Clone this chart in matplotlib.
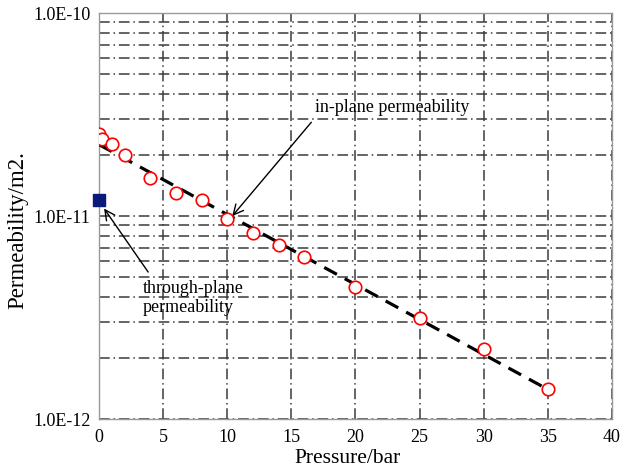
import numpy as np
import matplotlib.pyplot as plt
from matplotlib.ticker import FixedLocator, FixedFormatter, LogLocator, NullFormatter

# in-plane permeability measured at different pressures
pressure = [0, 0.2, 1, 2, 4, 6, 8, 10, 12, 14, 16, 20, 25, 30, 35]
k_inplane = [2.53e-11, 2.40e-11, 2.26e-11, 2.0e-11, 1.54e-11, 1.30e-11, 1.20e-11,
             9.7e-12, 8.3e-12, 7.2e-12, 6.3e-12, 4.47e-12, 3.15e-12, 2.21e-12, 1.41e-12]

# through-plane permeability
p_through = [0]
k_through = [1.2e-11]

# exponential fit of the in-plane data
fit_k0 = 2.25e-11
fit_k35 = 1.40e-12
fit_p = [0, 35]

plt.rcParams['font.family'] = ['Liberation Serif', 'DejaVu Serif']

fig = plt.figure(figsize=(6.23, 4.70), dpi=100)
ax = fig.add_axes([0.159, 0.1085, 0.823, 0.8635])

ax.set_yscale('log')
ax.set_xlim(0, 40)
ax.set_ylim(1e-12, 1e-10)

# grid first so the data sits on top
grid_style = dict(color='#3a3a3a', linestyle=(0, (7, 2.5, 1, 2.5)), linewidth=1.1)
ax.grid(True, which='both', axis='y', **grid_style)
ax.grid(True, which='major', axis='x', **grid_style)
ax.set_axisbelow(True)

fit_line = fit_k0 * (fit_k35 / fit_k0) ** (np.array(fit_p) / 35.0)
ax.plot(fit_p, fit_line, color='black', linestyle=(0, (4.5, 2.8)), linewidth=2.3, zorder=3)
ax.plot(pressure, k_inplane, 'o', mfc='white', mec='red', mew=1.2, ms=9, zorder=4)
ax.plot(p_through, k_through, 's', color='#0a1a7a', ms=8, zorder=5, clip_on=False)

ax.set_xticks(np.arange(0, 41, 5))
ax.yaxis.set_major_locator(FixedLocator([1e-12, 1e-11, 1e-10]))
ax.yaxis.set_major_formatter(FixedFormatter(['1.0E-12', '1.0E-11', '1.0E-10']))
ax.yaxis.set_minor_locator(LogLocator(base=10, subs=np.arange(2, 10)))
ax.yaxis.set_minor_formatter(NullFormatter())
ax.tick_params(which='both', length=0, labelsize=13)
ax.tick_params(axis='x', pad=7)
ax.tick_params(axis='y', pad=6)

for s in ax.spines.values():
    s.set_color('#999999')
    s.set_linewidth(1.0)

ax.set_xlabel('Pressure/bar', fontsize=15.5, va='center')
ax.xaxis.set_label_coords(0.485, -0.097)
ax.set_ylabel('Permeability/m2.', fontsize=16.5, va='center')
ax.yaxis.set_label_coords(-0.158, 0.466)

arrow = dict(arrowstyle='->', color='black', lw=1.0, mutation_scale=18,
             shrinkA=0, shrinkB=0)

ax.text(22.9, 3.44e-11, 'in-plane permeability', fontsize=13, ha='center', va='center')
ax.annotate('', xy=(10.39, 1.0e-11), xytext=(16.56, 2.9e-11), arrowprops=arrow)

ax.text(3.44, 3.94e-12, 'through-plane\npermeability', fontsize=13, ha='left',
        va='center', linespacing=1.15)
ax.annotate('', xy=(0.39, 1.09e-11), xytext=(3.83, 5.3e-12), arrowprops=arrow)

fig.savefig('out.png', dpi=100)
